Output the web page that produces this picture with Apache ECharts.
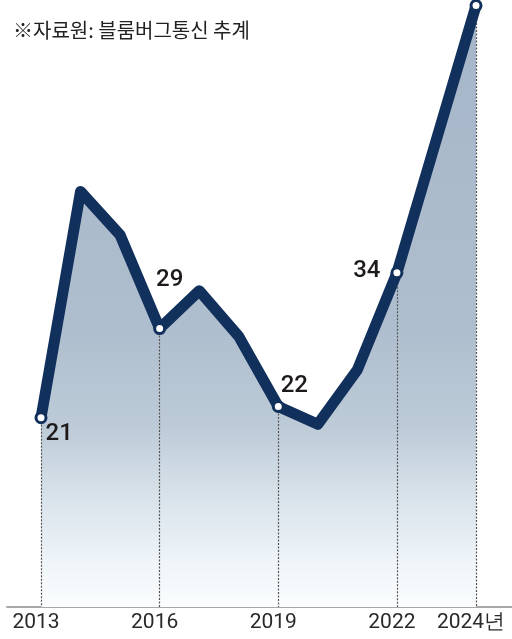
<!DOCTYPE html>
<html>
<head>
<meta charset="utf-8">
<script src="https://cdn.jsdelivr.net/npm/echarts@6/dist/echarts.min.js"></script>
<style>
html,body{margin:0;padding:0;background:#fff;}
#chart{width:512px;height:639px;}
</style>
</head>
<body>
<div id="chart"></div>
<script>
const years = [2013, 2014, 2015, 2016, 2017, 2018, 2019, 2020, 2021, 2022, 2023, 2024];
const values = [21, 41.3, 37.4, 29, 32.4, 28.3, 22, 20.4, 25.3, 34, 46.0, 58.0];
const labeledYears = [2013, 2016, 2019, 2022, 2024];
const tickYears = [2013, 2016, 2019, 2022, 2024];
const valueLabels = {2013: '21', 2016: '29', 2019: '22', 2022: '34'};
const sourceNote = '※자료원: 블룸버그통신 추계';
const yearSuffix = '년';

const NAVY = '#12305c';
const Y_MIN = 4, Y_MAX = 58.5;

const pairs = years.map((y, i) => [y, values[i]]);
const labelOffsets = {
  2013: {position: 'right', offset: [-10, 16]},
  2016: {position: 'top', offset: [10, -22]},
  2019: {position: 'top', offset: [16, 6]},
  2022: {position: 'left', offset: [-2, -2]}
};

const lineData = pairs.map(([x, v]) => {
  const isLab = labeledYears.includes(x);
  const d = {value: [x, v]};
  if (!isLab) {
    d.symbol = 'none';
  } else {
    d.symbol = 'circle';
    d.symbolSize = 10;
    if (valueLabels[x]) {
      const o = labelOffsets[x];
      d.label = {
        show: true,
        formatter: valueLabels[x],
        position: o.position,
        offset: o.offset,
        fontFamily: 'Roboto',
        fontSize: 24,
        fontWeight: 500,
        color: '#1e1a1a',
        distance: 8
      };
    }
  }
  return d;
});

const dropLines = labeledYears.map(x => {
  const v = values[years.indexOf(x)];
  return [{coord: [x, v]}, {coord: [x, Y_MIN]}];
});

const chart = echarts.init(document.getElementById('chart'), null, {renderer: 'canvas'});
chart.setOption({
  animation: false,
  backgroundColor: '#ffffff',
  title: {
    text: sourceNote,
    left: 8,
    top: 15,
    textStyle: {fontFamily: 'Noto Sans CJK KR', fontSize: 20, fontWeight: 'normal', color: '#222'}
  },
  grid: {left: 7, right: 0, top: 0, bottom: 32, containLabel: false},
  xAxis: {
    type: 'value',
    min: 2012.14,
    max: 2024.91,
    axisLine: {show: true, lineStyle: {color: '#a8a8a8', width: 2}},
    axisTick: {show: false},
    splitLine: {show: false},
    axisLabel: {
      customValues: tickYears,
      formatter: v => v === 2024 ? v + yearSuffix : String(v),
      fontFamily: 'Roboto',
      fontSize: 21,
      color: '#2a2a2a',
      margin: 5,
      padding: [0, 10, 0, 0]
    }
  },
  yAxis: {
    type: 'value',
    min: Y_MIN,
    max: Y_MAX,
    show: false,
    splitLine: {show: false}
  },
  series: [
    {
      type: 'line',
      z: 1,
      data: pairs,
      symbol: 'none',
      lineStyle: {width: 0},
      areaStyle: {
        origin: 'start',
        opacity: 1,
        color: new echarts.graphic.LinearGradient(0, 0, 0, 1, [
          {offset: 0, color: '#a5b6c9'},
          {offset: 0.54, color: '#afbece'},
          {offset: 0.70, color: '#bdcbd8'},
          {offset: 0.82, color: '#d9e3eb'},
          {offset: 0.92, color: '#eef4f8'},
          {offset: 1, color: '#fbfdfe'}
        ])
      },
      silent: true
    },
    {
      type: 'line',
      z: 2,
      data: [],
      markLine: {
        z: 2,
        silent: true,
        symbol: 'none',
        label: {show: false},
        lineStyle: {color: '#555', width: 1.2, type: [2, 1.5]},
        data: dropLines
      }
    },
    {
      type: 'line',
      z: 3,
      data: lineData,
      lineStyle: {color: NAVY, width: 11, join: 'round', cap: 'round'},
      itemStyle: {color: '#ffffff', borderColor: NAVY, borderWidth: 3},
      showSymbol: true,
      silent: true
    }
  ]
});
</script>
</body>
</html>
